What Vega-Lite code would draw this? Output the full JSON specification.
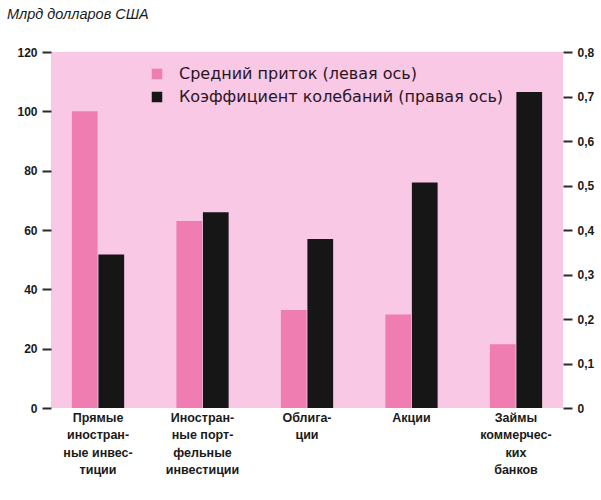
{
  "$schema": "https://vega.github.io/schema/vega-lite/v6.json",
  "width": 512,
  "height": 356,
  "padding": {"left": 6, "top": 6, "right": 4, "bottom": 4},
  "background": "white",
  "title": {
    "text": "Млрд долларов США",
    "anchor": "start",
    "frame": "bounds",
    "font": "Liberation Sans",
    "fontSize": 14.5,
    "fontStyle": "italic",
    "fontWeight": "normal",
    "color": "#1a1a1a",
    "dx": -10,
    "offset": 24
  },
  "config": {
    "view": {"fill": "#f8c8e4", "stroke": null},
    "font": "Liberation Sans",
    "axis": {"grid": false, "domain": false, "labelColor": "#1a1a1a", "tickColor": "#2a2a2a", "labelFont": "Liberation Sans", "labelFontWeight": "bold"}
  },
  "data": {
    "values": [
      {"cat": "Прямые|иностран-|ные инвес-|тиции", "series": "Средний приток (левая ось)", "value": 100},
      {"cat": "Иностран-|ные порт-|фельные|инвестиции", "series": "Средний приток (левая ось)", "value": 63},
      {"cat": "Облига-|ции", "series": "Средний приток (левая ось)", "value": 33},
      {"cat": "Акции", "series": "Средний приток (левая ось)", "value": 31.5},
      {"cat": "Займы|коммерчес-|ких|банков", "series": "Средний приток (левая ось)", "value": 21.5},
      {"cat": "Прямые|иностран-|ные инвес-|тиции", "series": "Коэффициент колебаний (правая ось)", "value": 0.345},
      {"cat": "Иностран-|ные порт-|фельные|инвестиции", "series": "Коэффициент колебаний (правая ось)", "value": 0.44},
      {"cat": "Облига-|ции", "series": "Коэффициент колебаний (правая ось)", "value": 0.38},
      {"cat": "Акции", "series": "Коэффициент колебаний (правая ось)", "value": 0.507},
      {"cat": "Займы|коммерчес-|ких|банков", "series": "Коэффициент колебаний (правая ось)", "value": 0.71}
    ]
  },
  "encoding": {
    "x": {
      "field": "cat",
      "type": "nominal",
      "sort": null,
      "scale": {"paddingInner": 0.5, "paddingOuter": 0.2},
      "axis": {
        "title": null,
        "labelAngle": 0,
        "ticks": false,
        "labelPadding": 3,
        "labelFontSize": 12.5,
        "labelLineHeight": 17.5,
        "labelExpr": "split(datum.value, '|')"
      }
    },
    "xOffset": {
      "field": "series",
      "type": "nominal",
      "scale": {"domain": ["Средний приток (левая ось)", "Коэффициент колебаний (правая ось)"], "paddingInner": 0.03}
    },
    "color": {
      "field": "series",
      "type": "nominal",
      "scale": {"domain": ["Средний приток (левая ось)", "Коэффициент колебаний (правая ось)"], "range": ["#ef7db2", "#161616"]},
      "legend": {
        "title": null,
        "orient": "none",
        "legendX": 98,
        "legendY": 14,
        "symbolType": "square",
        "symbolSize": 110,
        "symbolStrokeWidth": 0,
        "labelFontSize": 16,
        "labelColor": "#2a1526",
        "labelFont": "DejaVu Sans",
        "rowPadding": 7,
        "labelOffset": 14,
        "labelLimit": 450
      }
    }
  },
  "layer": [
    {
      "transform": [{"filter": "datum.series == 'Средний приток (левая ось)'"}],
      "mark": {"type": "bar"},
      "encoding": {
        "y": {
          "field": "value",
          "type": "quantitative",
          "scale": {"domain": [0, 120], "nice": false},
          "axis": {"title": null, "orient": "left", "values": [0, 20, 40, 60, 80, 100, 120], "tickSize": 9, "tickWidth": 2, "labelFontSize": 12, "labelPadding": 5}
        }
      }
    },
    {
      "transform": [{"filter": "datum.series == 'Коэффициент колебаний (правая ось)'"}],
      "mark": {"type": "bar"},
      "encoding": {
        "y": {
          "field": "value",
          "type": "quantitative",
          "scale": {"domain": [0, 0.8], "nice": false},
          "axis": {"title": null, "orient": "right", "values": [0, 0.1, 0.2, 0.3, 0.4, 0.5, 0.6, 0.7, 0.8], "tickSize": 9, "tickWidth": 2, "labelFontSize": 12, "labelPadding": 5, "labelExpr": "datum.value == 0 ? '0' : replace(format(datum.value, '.1f'), '.', ',')"}
        }
      }
    }
  ],
  "resolve": {"scale": {"y": "independent"}}
}
